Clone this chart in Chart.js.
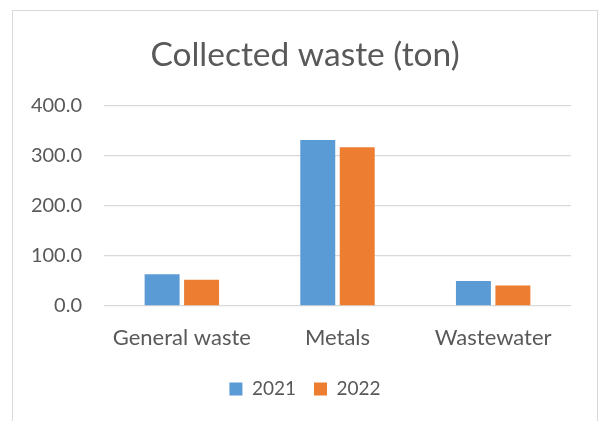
<!DOCTYPE html>
<html>
<head>
<meta charset="utf-8">
<script src="https://cdn.jsdelivr.net/npm/chart.js@4.4.0/dist/chart.umd.min.js"></script>
<style>
  html, body { margin: 0; padding: 0; background: #ffffff; }
  #wrap { width: 599px; height: 421px; }
</style>
</head>
<body>
<div id="wrap"><canvas id="myChart" width="599" height="421"></canvas></div>
<script>
// datos del grafico
const categorias = ['General waste', 'Metals', 'Wastewater'];
const valores2021 = [63.4, 331.4, 50.0];
const valores2022 = [52.0, 316.8, 40.8];
const ticksY = [0, 100, 200, 300, 400];

const gris = '#595959';
const fuente = 'Lato, "Noto Sans", sans-serif';

// marco del grafico (borde gris claro como en Excel)
const marco = {
  id: 'marco',
  beforeDraw(chart) {
    const ctx = chart.ctx;
    ctx.save();
    ctx.strokeStyle = '#d9d9d9';
    ctx.lineWidth = 1;
    ctx.strokeRect(12.5, 10.5, 585, 430);
    ctx.restore();
  }
};

new Chart(document.getElementById('myChart'), {
  type: 'bar',
  data: {
    labels: categorias,
    datasets: [
      { label: '2021', data: valores2021, backgroundColor: '#5b9bd5', categoryPercentage: 0.507, barPercentage: 0.886 },
      { label: '2022', data: valores2022, backgroundColor: '#ed7d31', categoryPercentage: 0.507, barPercentage: 0.886 }
    ]
  },
  options: {
    responsive: false,
    animation: false,
    layout: { padding: { left: 12, right: 1, top: 0, bottom: 12.6 } },
    plugins: {
      title: {
        display: true,
        text: 'Collected waste (ton)',
        color: gris,
        font: { family: fuente, size: 33.5, weight: 'normal' },
        padding: { top: 35, bottom: 30.5 }
      },
      legend: {
        position: 'bottom',
        labels: {
          color: gris,
          font: { family: fuente, size: 19 },
          boxWidth: 13,
          boxHeight: 13,
          padding: 18
        }
      },
      tooltip: { enabled: false }
    },
    scales: {
      x: {
        grid: { display: false, drawTicks: false },
        border: { display: false },
        afterFit: (scale) => { scale.height = 55.5; },
        ticks: { color: gris, font: { family: fuente, size: 22 }, padding: 19 }
      },
      y: {
        min: 0,
        max: 400,
        afterBuildTicks: (scale) => { scale.ticks = ticksY.map(v => ({ value: v })); },
        afterFit: (scale) => { scale.width = 92; },
        grid: { color: '#d9d9d9', lineWidth: 1.3, drawTicks: false },
        border: { display: false },
        ticks: {
          color: gris,
          font: { family: fuente, size: 20 },
          padding: 22,
          callback: (v) => v.toFixed(1)
        }
      },
      // eje vacio a la derecha para dejar el margen del area de trazado
      margen: {
        position: 'right',
        display: true,
        afterFit: (scale) => { scale.width = 27; },
        grid: { display: false, drawTicks: false },
        border: { display: false },
        ticks: { display: false }
      }
    }
  },
  plugins: [marco]
});
</script>
</body>
</html>
